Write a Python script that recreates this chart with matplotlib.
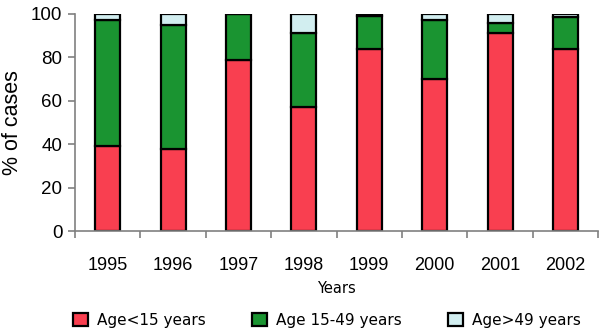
import matplotlib

matplotlib.use("Agg")
import matplotlib.pyplot as plt
import numpy as np

years = ["1995", "1996", "1997", "1998", "1999", "2000", "2001", "2002"]
under_15 = [39, 38, 79, 57, 84, 70, 91, 84]
age_15_49 = [58, 57, 21, 34, 15, 27, 5, 14.5]
over_49 = [3, 5, 0, 9, 1, 3, 4, 1.5]

colors = ["#F93F50", "#1A9431", "#D2EEF0"]
labels = ["Age<15 years", "Age 15-49 years", "Age>49 years"]

arial = "Liberation Sans"

fig = plt.figure(figsize=(6, 3.31), dpi=100)
ax = fig.add_axes([0.125, 0.302, 0.872, 0.656])

x = np.arange(len(years))
bottom = np.zeros(len(years))
handles = []
for vals, c, lab in zip([under_15, age_15_49, over_49], colors, labels):
    b = ax.bar(x, vals, width=0.38, bottom=bottom, color=c, edgecolor="black",
               linewidth=1.6, label=lab)
    handles.append(b)
    bottom += np.array(vals)

ax.set_xlim(-0.5, len(years) - 0.5)
ax.set_ylim(0, 100)
ax.set_yticks([0, 20, 40, 60, 80, 100])
ax.set_yticklabels([0, 20, 40, 60, 80, 100], fontsize=13.5, family=arial)
ax.tick_params(axis="y", length=5, color="#808080", width=1.2, pad=4)
ax.set_xticks(x)
ax.set_xticklabels(years, fontsize=13, family=arial)
ax.tick_params(axis="x", length=0, pad=19)
ax.set_xticks(np.arange(-0.5, len(years)), minor=True)
ax.tick_params(axis="x", which="minor", length=5, color="#808080", width=1.2)
for s in ["top", "right"]:
    ax.spines[s].set_visible(False)
for s in ["left", "bottom"]:
    ax.spines[s].set_color("#808080")
    ax.spines[s].set_linewidth(1.2)

ax.set_ylabel("% of cases", fontsize=15.5, family=arial)
ax.yaxis.set_label_coords(-0.10, 0.5)
ax.set_xlabel("Years", fontsize=10.5, labelpad=5)

fig.legend(handles, labels, loc="center", bbox_to_anchor=(0.545, 0.033), ncol=3,
           frameon=False, fontsize=11, handlelength=1.0, handleheight=1.0,
           columnspacing=3.0, handletextpad=0.6)

fig.savefig("out.png", dpi=100)
